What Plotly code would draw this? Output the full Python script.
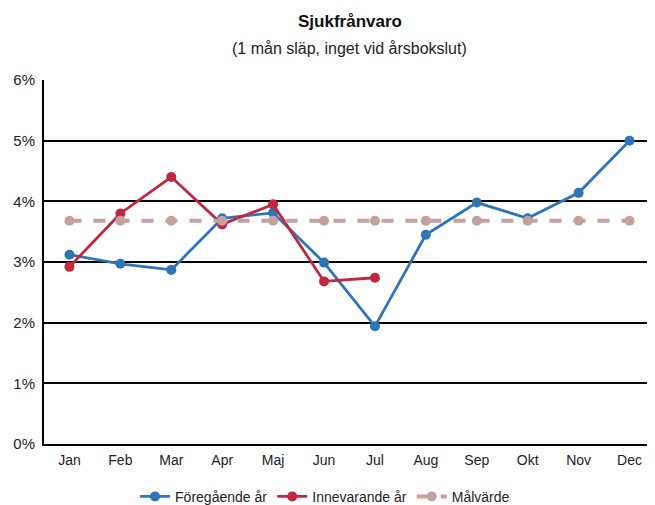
import plotly.graph_objects as go

months = ["Jan", "Feb", "Mar", "Apr", "Maj", "Jun", "Jul", "Aug", "Sep", "Okt", "Nov", "Dec"]
foregaende = [3.12, 2.97, 2.87, 3.72, 3.81, 2.99, 1.94, 3.45, 3.98, 3.72, 4.14, 5.0]
innevarande = [2.92, 3.80, 4.40, 3.62, 3.95, 2.68, 2.74]
malvarde = [3.68] * 12
yticks = [0, 1, 2, 3, 4, 5, 6]
ytick_labels = ["0%", "1%", "2%", "3%", "4%", "5%", "6%"]

fig = go.Figure()
fig.add_trace(go.Scatter(x=months, y=foregaende, name="Föregående år", mode="lines+markers",
                         line=dict(color="#2e75b6", width=2.8), marker=dict(size=10, color="#2e75b6")))
fig.add_trace(go.Scatter(x=months[:len(innevarande)], y=innevarande, name="Innevarande år", mode="lines+markers",
                         line=dict(color="#c0283f", width=2.8), marker=dict(size=10, color="#c0283f")))
fig.add_trace(go.Scatter(x=months, y=malvarde, name="Målvärde", mode="lines+markers",
                         line=dict(color="#c4a0a0", width=4, dash="dash"), marker=dict(size=10, color="#c4a0a0")))

fig.update_layout(
    width=647, height=497,
    margin=dict(l=36, r=0, t=72, b=61, autoexpand=False),
    paper_bgcolor="white", plot_bgcolor="white",
    font=dict(family="Liberation Sans, Arial, sans-serif", size=14, color="#222"),
    showlegend=True,
    legend=dict(orientation="h", x=0.46, xanchor="center", y=-0.145, yanchor="middle",
                font=dict(size=14), itemwidth=30, tracegroupgap=0),
    xaxis=dict(type="category", showgrid=False, showline=True, linecolor="black", linewidth=2,
               ticks="", tickfont=dict(size=14), range=[-0.5, 11.5], automargin=False,
               ticklabelstandoff=2),
    yaxis=dict(range=[0, 6], tickvals=yticks, ticktext=ytick_labels, showgrid=True,
               gridcolor="black", gridwidth=2, showline=True, linecolor="black", linewidth=2,
               zeroline=False, ticks="", tickfont=dict(size=15), ticklabelstandoff=4, automargin=False),
)
fig.add_annotation(text="<b>Sjukfrånvaro</b>", xref="paper", yref="paper",
                   x=0.5, y=1, yshift=59, yanchor="middle", showarrow=False,
                   font=dict(size=17, color="#111"))
fig.add_annotation(text="(1 mån släp, inget vid årsbokslut)", xref="paper", yref="paper",
                   x=0.5, y=1, yshift=32, yanchor="middle", showarrow=False,
                   font=dict(size=16, color="#222"))

fig.write_html("out.html")
